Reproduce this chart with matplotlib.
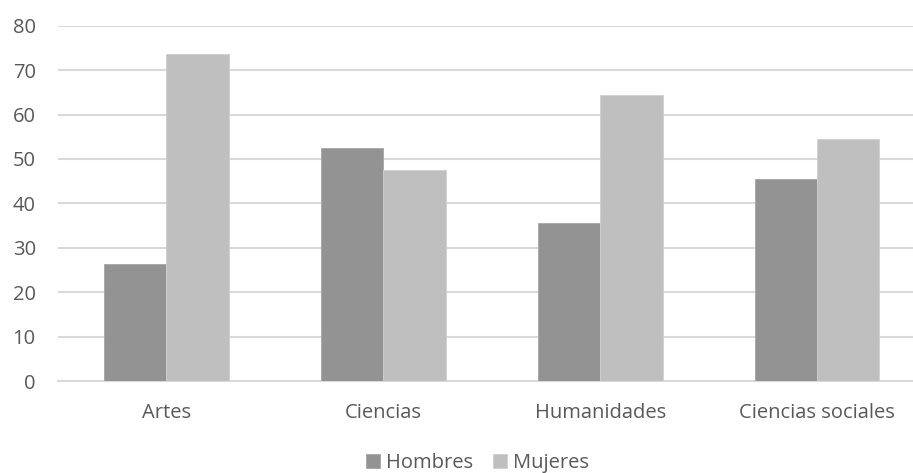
import numpy as np
import matplotlib
matplotlib.use("Agg")
import matplotlib.pyplot as plt

# Porcentaje de hombres y mujeres por área de estudio
areas = ["Artes", "Ciencias", "Humanidades", "Ciencias sociales"]
hombres = [26.3, 52.4, 35.6, 45.5]
mujeres = [73.7, 47.6, 64.4, 54.5]
etiquetas_y = [0, 10, 20, 30, 40, 50, 60, 70, 80]

gris_texto = "#595959"
plt.rcParams["font.family"] = ["Open Sans", "DejaVu Sans"]

fig = plt.figure(figsize=(9.13, 4.73), dpi=100)
ax = fig.add_axes([58 / 913, 0.1945, 867.6 / 913, 0.7512])

x = np.arange(len(areas))
ancho = 0.287
ax.bar(x - ancho / 2, hombres, ancho, color="#939393", edgecolor="#a6a6a6",
       linewidth=0.6, label="Hombres", zorder=3)
ax.bar(x + ancho / 2, mujeres, ancho, color="#bfbfbf", edgecolor="#d0d0d0",
       linewidth=0.6, label="Mujeres", zorder=3)

ax.set_xlim(-0.5, 3.5)
ax.set_ylim(0, 80)
ax.set_yticks(etiquetas_y)
ax.set_xticks(x)
ax.set_xticklabels(areas)
ax.yaxis.grid(True, color="#d9d9d9", linewidth=1.5, zorder=0)
for lado in ["top", "right", "left"]:
    ax.spines[lado].set_visible(False)
ax.spines["bottom"].set_color("#d9d9d9")
ax.spines["bottom"].set_linewidth(1.5)
ax.tick_params(axis="both", length=0, labelsize=14.5, colors=gris_texto)
ax.tick_params(axis="x", pad=16)
ax.tick_params(axis="y", pad=16)

fig.legend(loc="center", bbox_to_anchor=(0.523, 0.021), ncol=2, frameon=False,
           fontsize=14.5, labelcolor=gris_texto, handlelength=0.7,
           handleheight=0.7, handletextpad=0.3, columnspacing=1.0)

fig.savefig("out.png", dpi=100)
